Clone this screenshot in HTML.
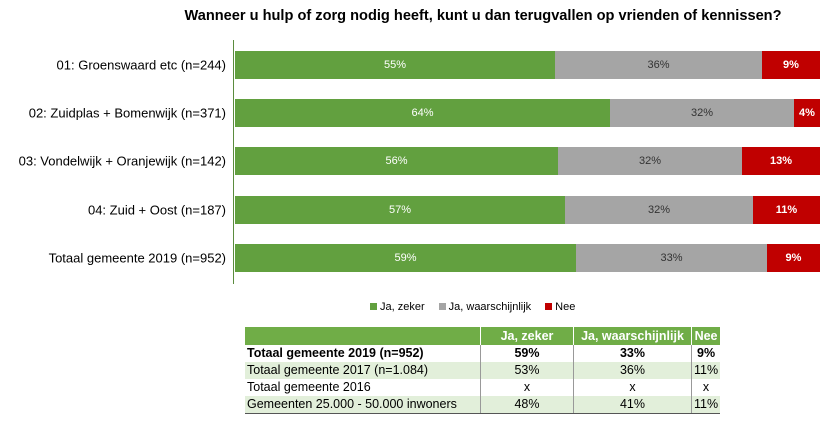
<!DOCTYPE html>
<html><head><style>
body{margin:0;width:832px;height:428px;background:#fff;font-family:"Liberation Sans",sans-serif;position:relative;overflow:hidden}
.t{position:absolute;left:0;width:832px;top:8px;text-align:center;font-weight:bold;font-size:14.6px;color:#000;padding-left:134px;box-sizing:border-box}
.lab{position:absolute;right:606px;font-size:13px;color:#000;white-space:nowrap;transform:translateY(-50%)}
.bar{position:absolute;left:235px;height:28px;display:flex;transform:translateY(-50%)}
.bar div{height:100%;display:flex;align-items:center;justify-content:center;font-size:11px}
.g{background:#62a03f;color:#fff}.s{background:#a5a5a5;color:#333}.r{background:#c00000;color:#fff;font-weight:bold}
.axis{position:absolute;left:233px;top:40px;width:1px;height:244px;background:#5b8c3e}
.leg{position:absolute;top:301px;left:370px;font-size:11px;display:flex;gap:14px}
.leg span i{display:inline-block;width:7px;height:7px;margin-right:3px}
table{position:absolute;left:245px;top:327px;border-collapse:collapse;font-size:12.5px}
td{padding:0 2px;height:17px;line-height:17px}
td.c{text-align:center;border-left:1px solid #999}
tr.h td{background:#70ad47;color:#fff;font-weight:bold;height:18px;border-left:1px solid #fff}
tr.a td{background:#e2efda}
tr.last td{border-bottom:1px solid #555}
</style></head><body>
<div class="t">Wanneer u hulp of zorg nodig heeft, kunt u dan terugvallen op vrienden of kennissen?</div>
<div class="axis"></div>
<div class="lab" style="top:65px">01: Groenswaard etc (n=244)</div>
<div class="lab" style="top:113px">02: Zuidplas + Bomenwijk (n=371)</div>
<div class="lab" style="top:161px">03: Vondelwijk + Oranjewijk (n=142)</div>
<div class="lab" style="top:210px">04: Zuid + Oost (n=187)</div>
<div class="lab" style="top:258px">Totaal gemeente 2019 (n=952)</div>
<div class="bar" style="top:65px"><div class="g" style="width:320px">55%</div><div class="s" style="width:207px">36%</div><div class="r" style="width:58px">9%</div></div>
<div class="bar" style="top:113px"><div class="g" style="width:375px">64%</div><div class="s" style="width:184px">32%</div><div class="r" style="width:26px">4%</div></div>
<div class="bar" style="top:161px"><div class="g" style="width:323px">56%</div><div class="s" style="width:184px">32%</div><div class="r" style="width:78px">13%</div></div>
<div class="bar" style="top:210px"><div class="g" style="width:330px">57%</div><div class="s" style="width:188px">32%</div><div class="r" style="width:67px">11%</div></div>
<div class="bar" style="top:258px"><div class="g" style="width:341px">59%</div><div class="s" style="width:191px">33%</div><div class="r" style="width:53px">9%</div></div>
<div class="leg"><span><i style="background:#62a03f"></i>Ja, zeker</span><span><i style="background:#a5a5a5"></i>Ja, waarschijnlijk</span><span><i style="background:#c00000"></i>Nee</span></div>
<table>
<tr class="h"><td style="width:231px;border-left:none"></td><td class="c" style="width:88px">Ja, zeker</td><td class="c" style="width:113px">Ja, waarschijnlijk</td><td class="c" style="width:24px">Nee</td></tr>
<tr><td style="font-weight:bold">Totaal gemeente 2019 (n=952)</td><td class="c" style="font-weight:bold">59%</td><td class="c" style="font-weight:bold">33%</td><td class="c" style="font-weight:bold">9%</td></tr>
<tr class="a"><td>Totaal gemeente 2017 (n=1.084)</td><td class="c">53%</td><td class="c">36%</td><td class="c">11%</td></tr>
<tr><td>Totaal gemeente 2016</td><td class="c">x</td><td class="c">x</td><td class="c">x</td></tr>
<tr class="a last"><td>Gemeenten 25.000 - 50.000 inwoners</td><td class="c">48%</td><td class="c">41%</td><td class="c">11%</td></tr>
</table>
</body></html>
